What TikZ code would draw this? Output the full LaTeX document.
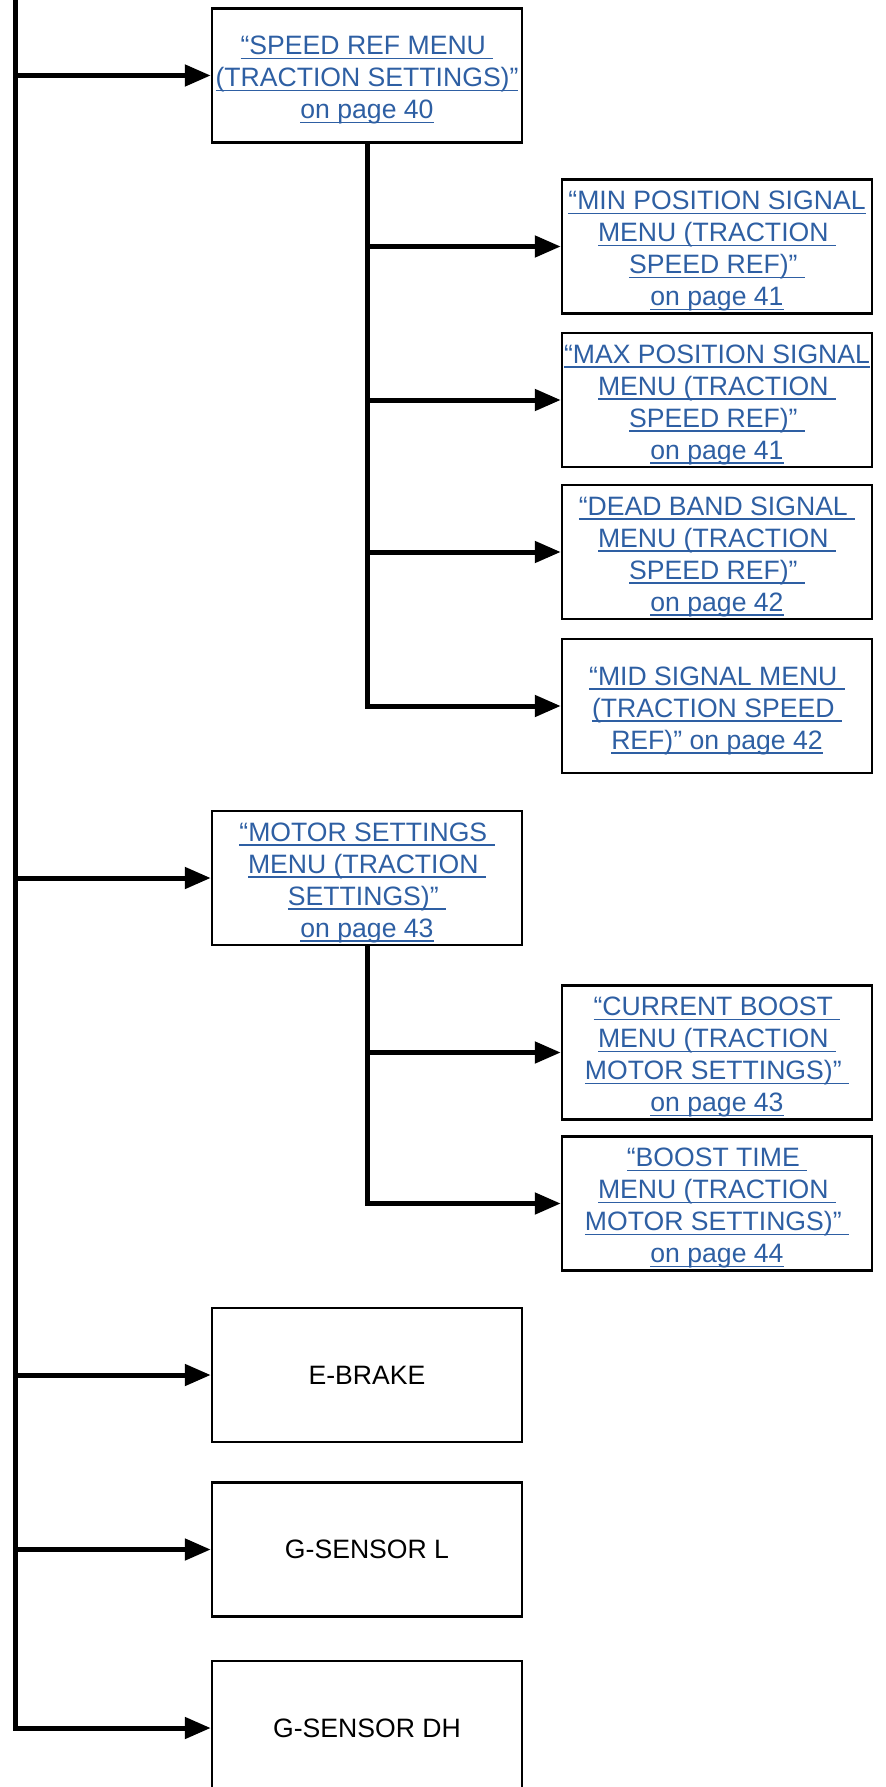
\documentclass[tikz,border=0pt]{standalone}
\usepackage{fontspec}
\setmainfont{Liberation Sans}
\usetikzlibrary{arrows.meta}
\definecolor{mnublue}{HTML}{2E5FA3}
\newcommand{\mnuline}[1]{\setbox0\hbox{#1}\rlap{\rule[-2.3pt]{\wd0}{0.9pt}}\box0}
\newcommand{\mnutop}{\rule{0pt}{14pt}}

\tikzset{
  mnubox/.style={draw, line width=1.25pt, minimum width=155pt, minimum height=67pt,
    inner sep=0pt, align=center, font=\fontsize{13.3}{16}\selectfont},
  mnulinkbox/.style={mnubox, text=mnublue},
  mnuedge/.style={line width=2.5pt},
  mnuarrow/.style={mnuedge, -{Triangle[length=13pt, width=10.5pt]}}
}

\begin{document}
\begin{tikzpicture}[x=0.5pt, y=-0.5pt]
\useasboundingbox (0,0) rectangle (885,1787);

\coordinate (top) at (15,0);

\node[mnulinkbox] (speed) at (367,75.5) {\mnutop\mnuline{“SPEED REF MENU\ }\\\mnuline{(TRACTION SETTINGS)”}\\\mnuline{on page 40}};
\node[mnulinkbox] (minpos) at (717,246.5) {\mnutop\mnuline{“MIN POSITION SIGNAL}\\\mnuline{MENU (TRACTION\ }\\\mnuline{SPEED REF)”\ }\\\mnuline{on page 41}};
\node[mnulinkbox] (maxpos) at (717,400) {\mnutop\mnuline{“MAX POSITION SIGNAL}\\\mnuline{MENU (TRACTION\ }\\\mnuline{SPEED REF)”\ }\\\mnuline{on page 41}};
\node[mnulinkbox] (dead) at (717,552) {\mnutop\mnuline{“DEAD BAND SIGNAL\ }\\\mnuline{MENU (TRACTION\ }\\\mnuline{SPEED REF)”\ }\\\mnuline{on page 42}};
\node[mnulinkbox] (mid) at (717,706) {\mnutop\mnuline{“MID SIGNAL MENU\ }\\\mnuline{(TRACTION SPEED\ }\\\mnuline{REF)” on page 42}};

\node[mnulinkbox] (motor) at (367,878) {\mnutop\mnuline{“MOTOR SETTINGS\ }\\\mnuline{MENU (TRACTION\ }\\\mnuline{SETTINGS)”\ }\\\mnuline{on page 43}};
\node[mnulinkbox] (boost) at (717,1052.5) {\mnutop\mnuline{“CURRENT BOOST\ }\\\mnuline{MENU (TRACTION\ }\\\mnuline{MOTOR SETTINGS)”\ }\\\mnuline{on page 43}};
\node[mnulinkbox] (btime) at (717,1203.5) {\mnutop\mnuline{“BOOST TIME\ }\\\mnuline{MENU (TRACTION\ }\\\mnuline{MOTOR SETTINGS)”\ }\\\mnuline{on page 44}};

\node[mnubox] (ebrake) at (367,1375) {E-BRAKE};
\node[mnubox] (gsl) at (367,1549.5) {G-SENSOR L};
\node[mnubox] (gsdh) at (367,1728) {G-SENSOR DH};

\draw[mnuarrow] (top) |- (gsdh.west);
\draw[mnuarrow] (speed.west -| top) -- (speed.west);
\draw[mnuarrow] (motor.west -| top) -- (motor.west);
\draw[mnuarrow] (ebrake.west -| top) -- (ebrake.west);
\draw[mnuarrow] (gsl.west -| top) -- (gsl.west);

\draw[mnuarrow] (speed.south) |- (mid.west);
\draw[mnuarrow] (speed.south |- minpos.west) -- (minpos.west);
\draw[mnuarrow] (speed.south |- maxpos.west) -- (maxpos.west);
\draw[mnuarrow] (speed.south |- dead.west) -- (dead.west);

\draw[mnuarrow] (motor.south) |- (btime.west);
\draw[mnuarrow] (motor.south |- boost.west) -- (boost.west);
\end{tikzpicture}
\end{document}
